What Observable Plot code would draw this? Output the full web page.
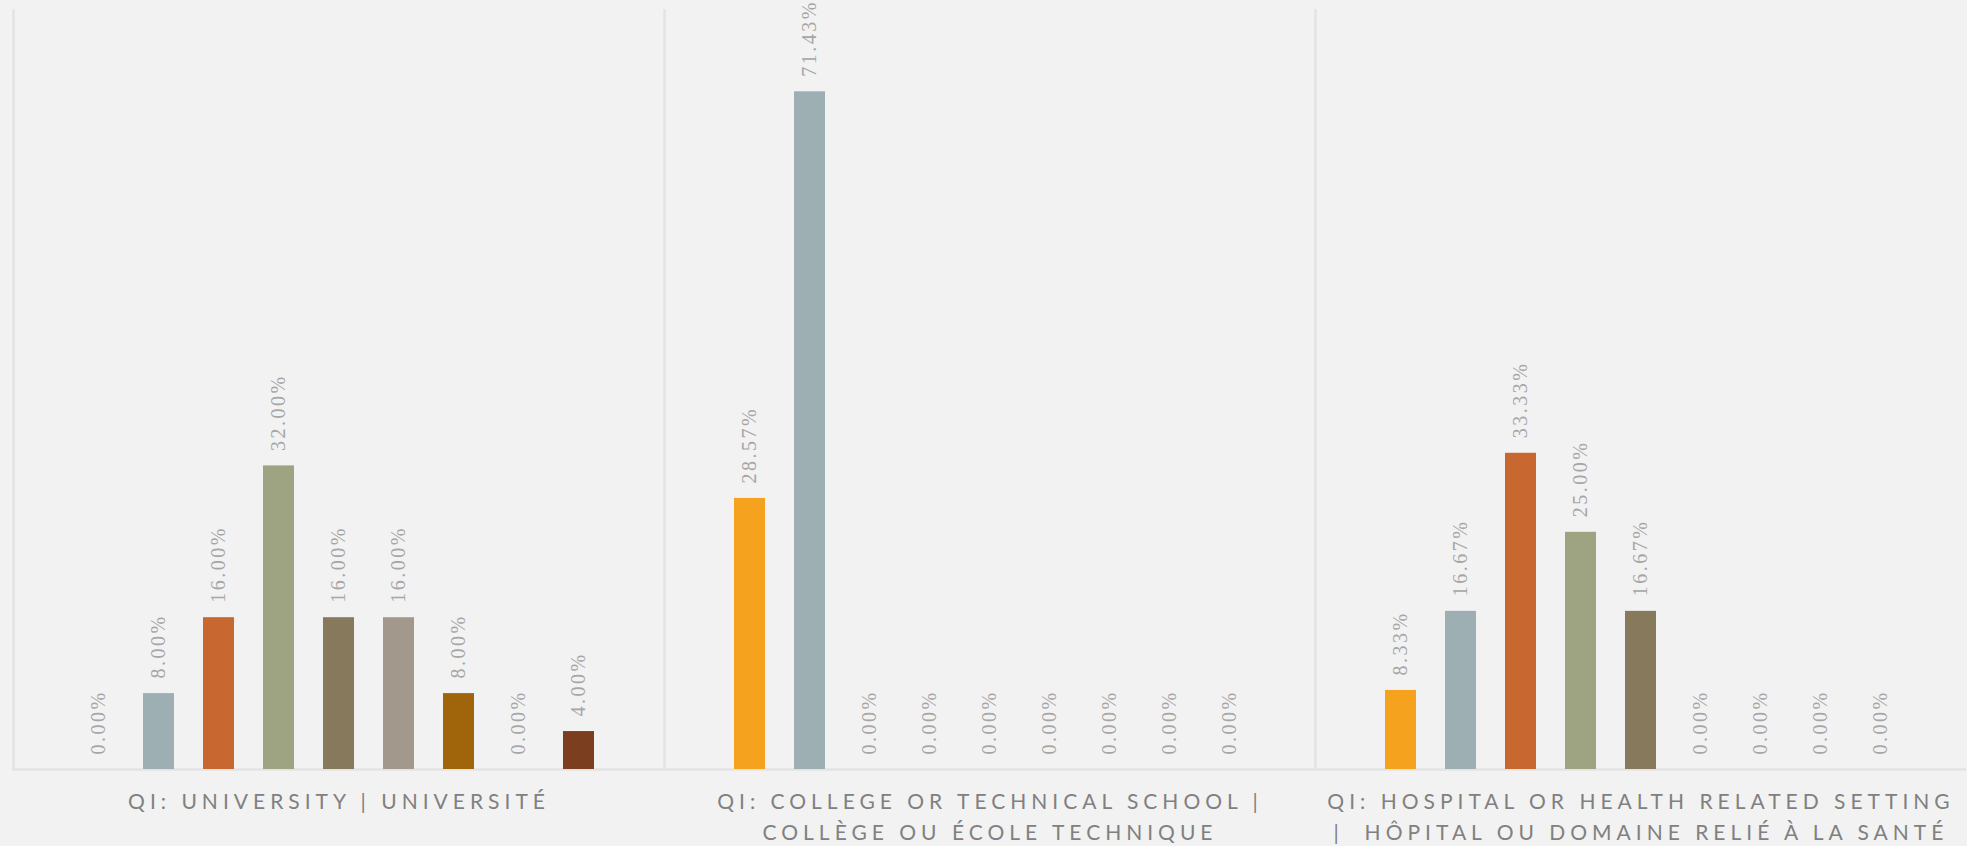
<!DOCTYPE html>
<html><head><meta charset="utf-8">
<script src="https://cdn.jsdelivr.net/npm/d3@7"></script>
<script src="https://cdn.jsdelivr.net/npm/@observablehq/plot@0.6"></script>
<style>
html,body{margin:0;padding:0;background:#f2f2f2;}
#chart svg{display:block;}
g[fill="#808080"] text{letter-spacing:5px;}
g[fill="#a6a6a6"] text{letter-spacing:2.5px;}
</style></head><body><div id="chart"></div>
<script>
const categories = ["University", "College", "Hospital"];
const categoryLabels = [
  "QI: UNIVERSITY | UNIVERSITÉ",
  "QI: COLLEGE OR TECHNICAL SCHOOL |\nCOLLÈGE OU ÉCOLE TECHNIQUE",
  "QI: HOSPITAL OR HEALTH RELATED SETTING\n|  HÔPITAL OU DOMAINE RELIÉ À LA SANTÉ"
];
const series = ["S1", "S2", "S3", "S4", "S5", "S6", "S7", "S8", "S9"];
const seriesColors = ["#f5a31f", "#9eafb4", "#c8672f", "#9ea382", "#87795c", "#a2998c", "#a0640a", "#6f7f86", "#7b3f1f"];
const universityValues = [0, 8, 16, 32, 16, 16, 8, 0, 4];
const collegeValues = [28.57, 71.43, 0, 0, 0, 0, 0, 0, 0];
const hospitalValues = [8.33, 16.67, 33.33, 25.00, 16.67, 0, 0, 0, 0];
const valuesByCategory = [universityValues, collegeValues, hospitalValues];

const rows = categories.flatMap((c, ci) => series.map((s, si) => ({category: c, series: s, value: valuesByCategory[ci][si]})));

const chart = Plot.plot({
  width: 1967, height: 846,
  marginLeft: 12, marginRight: 0, marginTop: 10, marginBottom: 77,
  style: {background: "#f2f2f2", fontFamily: "Lato"},
  fx: {domain: categories, axis: null, padding: 0},
  x: {domain: series, axis: null, paddingInner: 0.485, paddingOuter: 1.16},
  y: {domain: [0, 80], axis: null},
  color: {domain: series, range: seriesColors},
  marks: [
    Plot.frame({anchor: "left", stroke: "#e3e3e3", strokeWidth: 2.5}),
    Plot.ruleY([0], {stroke: "#e3e3e3", strokeWidth: 2.5}),
    Plot.barY(rows, {fx: "category", x: "series", y: "value", fill: "series"}),
    Plot.text(rows, {fx: "category", x: "series", y: "value", text: d => d.value.toFixed(2) + "%", rotate: -90, textAnchor: "start", dy: -15, fill: "#a6a6a6", fontSize: 20, fontFamily: "Liberation Sans Narrow"}),
    Plot.text(categories, {fx: d => d, text: (d, i) => categoryLabels[i], frameAnchor: "bottom", lineAnchor: "top", dy: 18, lineHeight: 1.47, fill: "#808080", fontSize: 21})
  ]
});
document.getElementById("chart").appendChild(chart);
</script></body></html>
